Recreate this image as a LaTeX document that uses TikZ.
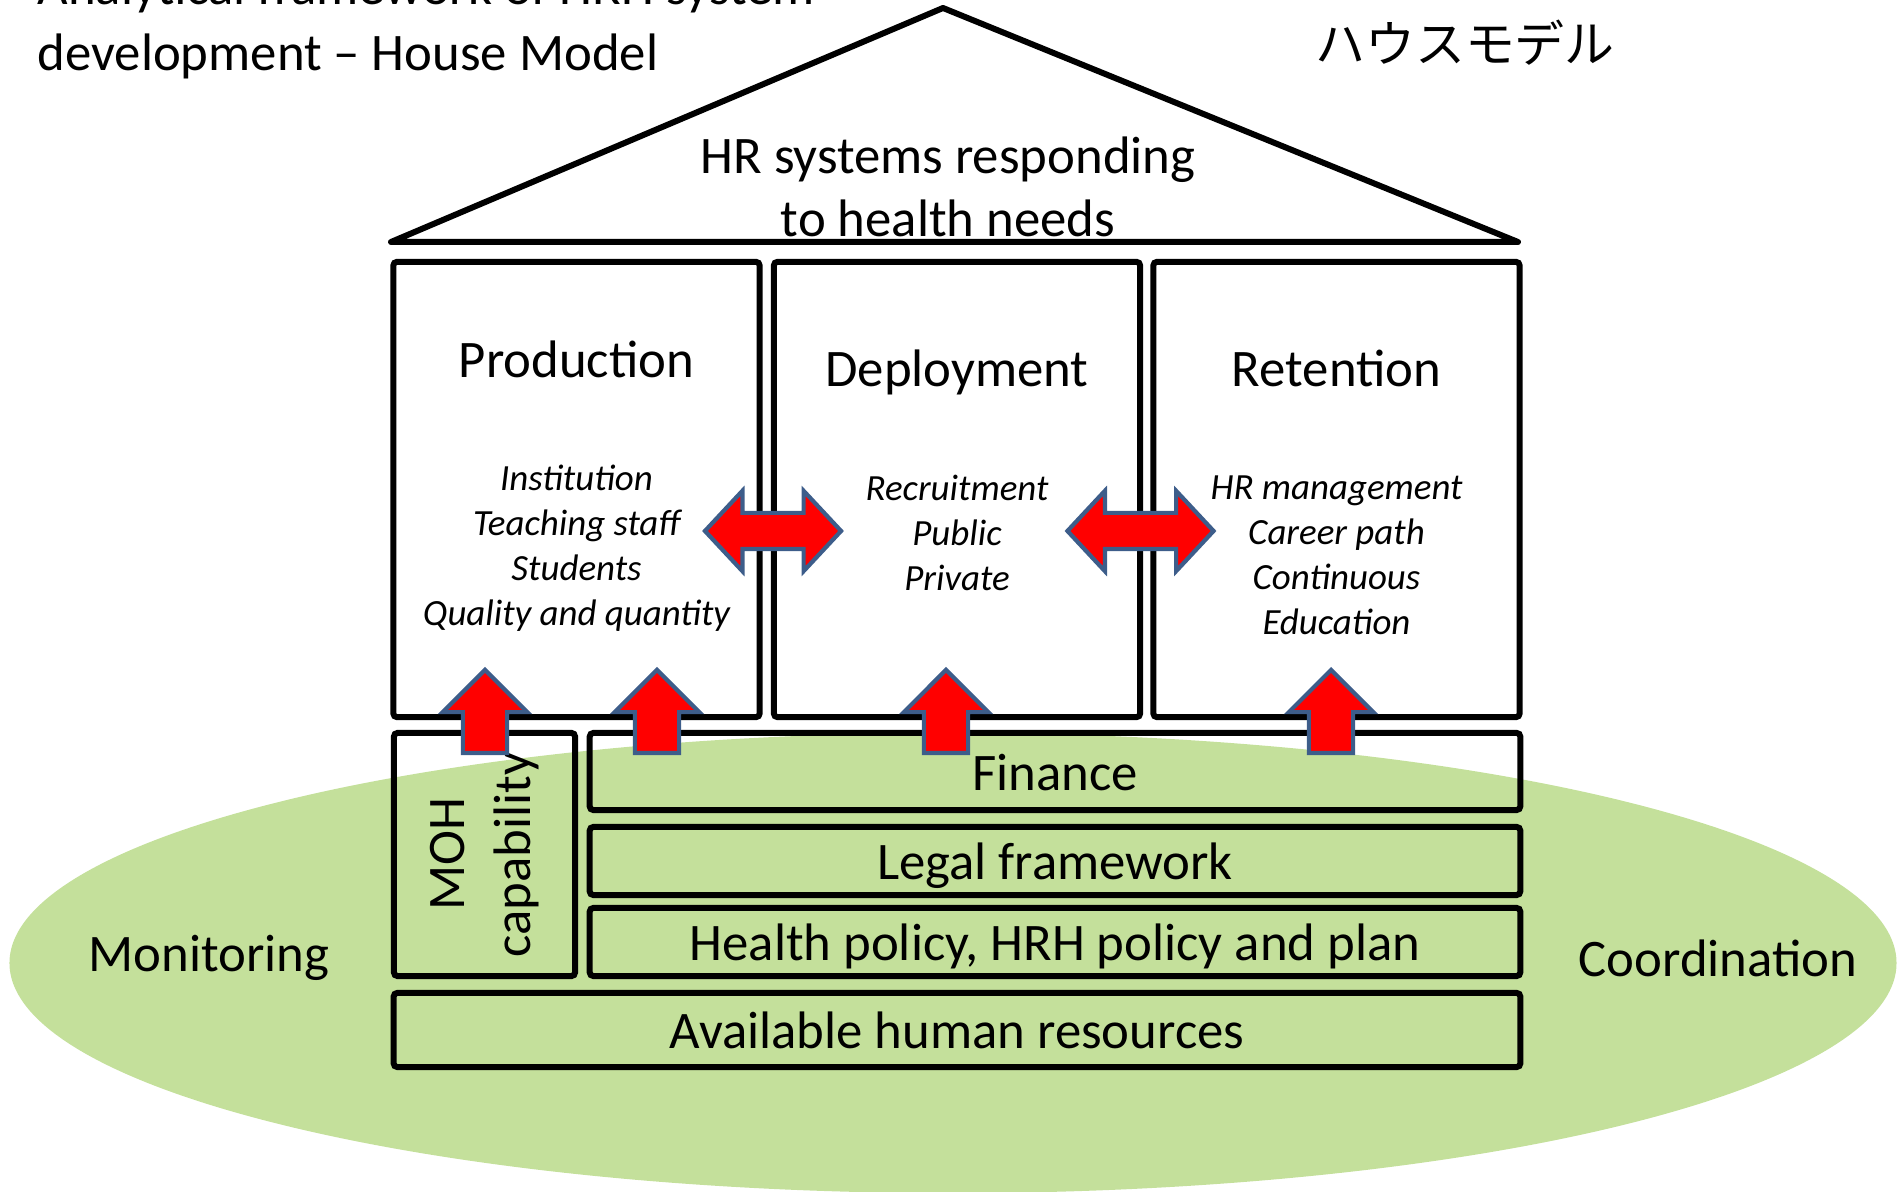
\documentclass[tikz,border=0pt]{standalone}
\usepackage{fontspec}
\setmainfont{Carlito}
\newfontfamily\jpfont{Noto Sans CJK JP}
\usetikzlibrary{calc,positioning,shapes.geometric,shapes.arrows}
\definecolor{grass}{RGB}{196,224,155}
\definecolor{arrowred}{RGB}{255,0,0}
\definecolor{arrowrim}{RGB}{61,93,138}

\begin{document}
\begin{tikzpicture}[x=0.01cm,y=-0.01cm,
    slab/.style={draw,line width=1.7pt,rounded corners=1pt,inner sep=0pt},
    floor/.style={slab,big,minimum width=9.3cm,text height=3.7mm,text depth=0pt},
    big/.style={font=\fontsize{15}{18.8}\selectfont},
    small/.style={font=\fontsize{10.5}{12.8}\selectfont\itshape,align=center},
    uparrow/.style={single arrow,draw=arrowrim,fill=arrowred,line width=1.2pt,
      rotate=90,inner xsep=0pt,inner ysep=0.2cm,minimum width=0pt,
      minimum height=0.83cm,single arrow head extend=0.2cm,anchor=tip},
    twoway/.style={double arrow,draw=arrowrim,fill=arrowred,line width=1.2pt,
      inner xsep=0pt,inner ysep=0.16cm,minimum width=0pt,
      double arrow head extend=0.22cm,double arrow tip angle=94}]

    \useasboundingbox (0,0) rectangle (1899,1192);

    \node[ellipse,fill=grass,inner sep=0pt,minimum width=18.86cm,minimum height=4.6cm] (ground) at (953,963) {};

    % roof
    \coordinate (rL) at (391,242);
    \coordinate (rT) at (943,8);
    \coordinate (rR) at (1518,242);
    \draw[line width=1.7pt,line join=round] (rL) -- (rT) -- (rR) -- cycle;
    \node[font=\fontsize{15}{17.9}\selectfont,align=center] (goal) at (948,186.5) {HR systems responding\\to health needs};

    % pillars
    \node[slab,minimum width=3.66cm,minimum height=4.55cm] (pA) at (576.5,489.5) {};
    \node[slab,minimum width=3.66cm,minimum height=4.55cm] (pB) at (957,489.5) {};
    \node[slab,minimum width=3.66cm,minimum height=4.55cm] (pC) at (1336.5,489.5) {};

    \node[big,anchor=base] (hA) at ($(pA.north)+(0,119)$) {Production};
    \node[big,anchor=base] (hB) at ($(pB.north)+(0,128)$) {Deployment};
    \node[big,anchor=base] (hC) at ($(pC.north)+(0,128)$) {Retention};

    \node[small] (iA) at ($(pA.north)+(0,289)$) {Institution\\Teaching staff\\Students\\Quality and quantity};
    \node[small] (iB) at ($(pB.north)+(0,274)$) {Recruitment\\Public\\Private};
    \node[small] (iC) at ($(pC.north)+(0,296)$) {HR management\\Career path\\Continuous\\Education};

    % foundation
    \node[slab,big,rotate=90,align=center,minimum width=2.43cm,minimum height=1.81cm] (moh) at (484.5,854.5) {MOH\\capability};
    \node[floor,minimum height=0.77cm] (fin) at (1055,771.5) {Finance};
    \node[floor,minimum height=0.68cm] (legal) at (1055,861) {Legal framework};
    \node[floor,minimum height=0.68cm] (hpol) at (1055,942) {Health policy, HRH policy and plan};
    \node[floor,minimum width=11.26cm,minimum height=0.74cm] (hres) at (957,1030) {Available human resources};

    \node[big,anchor=base] (mon) at (209,972) {Monitoring};
    \node[big,anchor=base] (coord) at (1718,977) {Coordination};

    % titles
    \node[big,anchor=base west,inner sep=0pt] (tA) at (37,5) {Analytical framework of HRH system};
    \node[big,anchor=base west,inner sep=0pt] (tB) at (37,71) {development – House Model};
    \node[font=\jpfont\fontsize{14.2}{17}\selectfont] (tJ) at (1465,43) {ハウスモデル};

    % arrows
    \node[twoway,minimum height=1.36cm] (aAB) at (773,531) {};
    \node[twoway,minimum height=1.46cm] (aBC) at (1140.5,531) {};
    \node[uparrow] (uA) at (485,667) {};
    \node[uparrow] (uB) at (657,667) {};
    \node[uparrow] (uC) at (946,667) {};
    \node[uparrow] (uD) at (1331,667) {};
\end{tikzpicture}
\end{document}
